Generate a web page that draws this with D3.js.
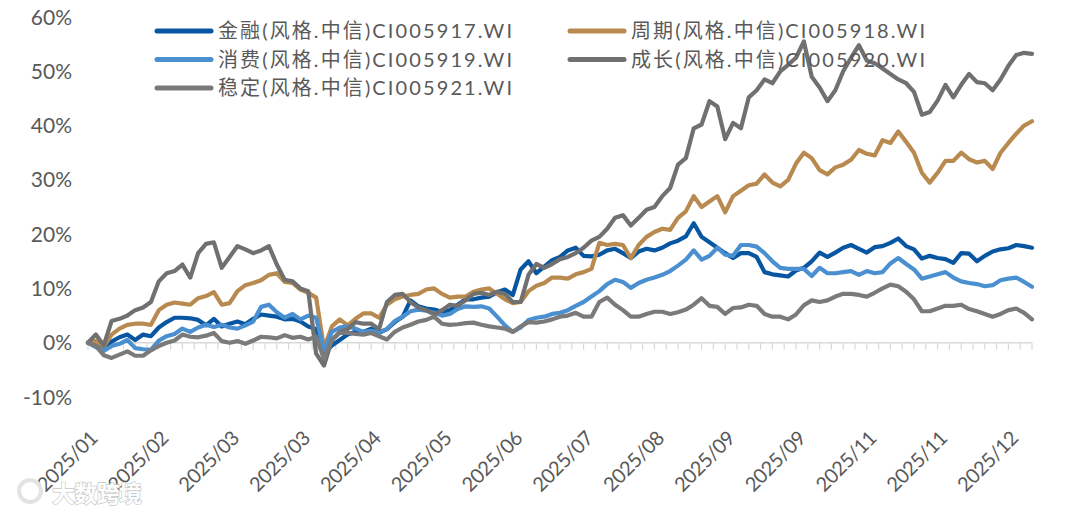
<!DOCTYPE html>
<html>
<head>
<meta charset="utf-8">
<script src="https://cdn.jsdelivr.net/npm/d3@7"></script>
<style>
  body { margin: 0; background: #fff; }
  svg text { font-family: "Century Gothic", Lato, "Noto Sans CJK SC", sans-serif; fill: #595959; }
</style>
</head>
<body>
<div id="chart"></div>
<script>
// one value every 2 trading days, cumulative return in %
var seriesNames = ["金融(风格.中信)CI005917.WI", "周期(风格.中信)CI005918.WI", "消费(风格.中信)CI005919.WI",
                   "成长(风格.中信)CI005920.WI", "稳定(风格.中信)CI005921.WI"];
var colors = ["#0756A1", "#B98A4F", "#4A90D0", "#707070", "#7A7A7A"];

var finance = [0, -0.5, -1.2, 0.2, 1.0, 1.5, 0.5, 1.5, 1.2, 2.8, 3.8, 4.6, 4.6, 4.5, 4.2, 3.2, 4.4, 3.0, 3.5, 3.9, 3.4, 4.4, 5.2, 5.0, 4.8, 4.3, 4.4, 3.9, 3.0, 2.5,
  -2.0, -0.5, 0.5, 1.5, 2.0, 2.0, 2.6, 1.8, 2.5, 3.8, 4.8, 7.8, 6.7, 6.3, 6.1, 5.7, 6.0, 7.0, 8.0, 8.0, 8.3, 8.5, 9.3, 9.8, 8.8, 13.5, 15.0, 12.8, 14.0, 15.2,
  15.8, 17.0, 17.5, 16.0, 15.9, 16.2, 17.0, 17.3, 16.5, 15.6, 16.8, 17.3, 17.0, 17.5, 18.3, 18.8, 19.6, 22.0, 19.5, 18.5, 17.5, 16.5, 15.6, 16.5, 16.5, 15.8, 13.0, 12.6, 12.4, 12.2,
  13.3, 13.8, 15.0, 16.6, 15.8, 16.6, 17.5, 18.0, 17.3, 16.6, 17.6, 17.8, 18.4, 19.2, 17.8, 17.2, 15.5, 16.0, 15.6, 15.4, 14.7, 16.5, 16.4, 15.0, 16.0, 16.8, 17.2, 17.4, 18.0, 17.8, 17.5];

var cyclical = [0, 0.3, -0.7, 1.5, 2.6, 3.3, 3.5, 3.5, 3.3, 6.0, 7.0, 7.4, 7.2, 7.0, 8.2, 8.6, 9.3, 7.0, 7.3, 9.5, 10.6, 11.0, 11.5, 12.5, 12.8, 11.2, 11.0, 9.8, 9.2, 8.3,
  -1.0, 3.0, 4.3, 3.2, 4.4, 5.4, 5.4, 4.6, 7.0, 8.0, 8.5, 8.8, 9.0, 9.8, 10.0, 9.0, 8.3, 8.5, 8.5, 9.4, 9.8, 10.0, 9.0, 8.0, 7.3, 7.5, 9.5, 10.5, 11.0, 12.0,
  12.0, 11.8, 12.6, 13.0, 13.6, 18.4, 18.0, 18.2, 18.0, 15.6, 18.0, 19.5, 20.4, 21.0, 20.8, 23.0, 24.2, 27.0, 25.0, 26.0, 27.0, 24.0, 27.0, 28.0, 29.0, 29.3, 31.0, 29.5, 28.8, 30.0,
  33.0, 35.0, 34.0, 31.8, 31.0, 32.3, 32.8, 33.7, 35.5, 34.8, 34.5, 37.3, 36.8, 38.9, 37.0, 35.0, 31.3, 29.5, 31.3, 33.5, 33.5, 35.0, 33.8, 33.2, 33.5, 32.0, 35.0, 36.8, 38.5, 40.0, 40.8];

var consumer = [0, -0.8, -1.5, -0.6, -0.2, 0.5, -1.0, -1.2, -1.3, 0.4, 1.2, 1.6, 2.6, 2.0, 2.8, 3.3, 2.9, 3.3, 2.8, 2.6, 3.2, 3.9, 6.6, 7.0, 5.6, 4.6, 5.3, 4.3, 5.0, 4.6,
  -1.5, 2.0, 2.8, 3.0, 2.6, 2.0, 2.2, 1.9, 2.5, 4.0, 4.8, 5.8, 6.1, 5.9, 5.5, 5.0, 5.3, 6.2, 6.7, 6.6, 6.7, 6.3, 4.8, 3.2, 2.0, 2.8, 4.2, 4.6, 4.8, 5.3,
  5.5, 6.0, 6.8, 7.5, 8.5, 9.5, 10.8, 11.6, 11.2, 10.1, 11.0, 11.6, 12.0, 12.5, 13.2, 14.2, 15.3, 17.0, 15.3, 16.0, 17.5, 16.2, 16.0, 18.0, 18.0, 17.7, 16.5, 15.0, 13.8, 13.6,
  13.6, 13.6, 12.3, 13.8, 12.8, 12.8, 13.0, 13.2, 12.5, 13.2, 12.8, 13.0, 14.6, 15.6, 14.5, 13.5, 11.8, 12.2, 12.6, 13.0, 12.0, 11.3, 11.0, 10.8, 10.4, 10.6, 11.5, 11.8, 12.0, 11.2, 10.3];

var growth = [0, 1.5, -0.5, 4.0, 4.4, 5.0, 6.0, 6.5, 7.5, 11.3, 12.8, 13.2, 14.4, 12.0, 16.5, 18.2, 18.5, 13.8, 15.8, 17.8, 17.2, 16.5, 17.0, 17.8, 14.4, 11.6, 11.3, 10.0, 9.5, -2.0,
  -4.2, 0.5, 2.0, 2.5, 3.8, 3.5, 3.5, 2.5, 7.5, 8.8, 9.0, 7.5, 6.5, 6.0, 5.2, 6.0, 7.0, 6.8, 7.8, 9.0, 9.2, 8.8, 9.4, 9.0, 7.5, 7.5, 12.5, 14.5, 13.8, 14.5,
  15.4, 15.8, 16.5, 17.5, 18.8, 19.5, 21.0, 23.0, 23.5, 21.6, 23.0, 24.5, 25.0, 27.0, 28.5, 32.8, 34.0, 39.5, 40.2, 44.5, 43.5, 37.5, 40.5, 39.5, 45.2, 46.5, 48.5, 47.8, 50.0, 51.2,
  52.5, 55.5, 49.0, 47.0, 44.5, 46.5, 50.0, 52.5, 54.8, 52.0, 51.5, 50.5, 49.5, 48.5, 47.8, 46.2, 42.0, 42.5, 44.6, 47.5, 45.2, 47.5, 49.5, 48.0, 47.8, 46.5, 48.5, 51.0, 53.0, 53.4, 53.2];

var stable = [0, -0.6, -2.3, -2.8, -2.2, -1.6, -2.4, -2.4, -1.4, -0.6, 0.0, 0.4, 1.5, 1.1, 1.0, 1.3, 1.8, 0.3, 0.0, 0.3, -0.2, 0.4, 1.1, 1.0, 0.8, 1.4, 0.9, 1.1, 0.6, 1.1,
  -3.0, 0.5, 1.8, 1.8, 1.6, 1.5, 1.8, 1.2, 0.6, 2.0, 2.8, 3.3, 3.9, 4.2, 4.8, 3.5, 3.3, 3.4, 3.6, 3.7, 3.3, 3.0, 2.8, 2.6, 2.0, 3.0, 3.8, 3.7, 3.9, 4.3,
  4.8, 5.0, 5.5, 4.8, 4.8, 7.5, 8.3, 7.0, 6.0, 4.8, 4.8, 5.3, 5.7, 5.7, 5.3, 5.6, 6.1, 7.0, 8.2, 6.8, 6.6, 5.3, 6.4, 6.5, 7.0, 6.8, 5.3, 4.8, 4.8, 4.3,
  5.2, 6.9, 7.8, 7.5, 7.8, 8.5, 9.0, 9.0, 8.8, 8.5, 9.2, 10.0, 10.7, 10.4, 9.4, 8.0, 5.8, 5.8, 6.3, 6.8, 6.8, 7.0, 6.2, 5.8, 5.3, 4.8, 5.3, 6.0, 6.3, 5.5, 4.3];

var tickLabels = ["2025/01", "2025/02", "2025/03", "2025/03", "2025/04", "2025/05", "2025/06",
                  "2025/07", "2025/08", "2025/09", "2025/09", "2025/11", "2025/11", "2025/12"];
var yTicks = [-10, 0, 10, 20, 30, 40, 50, 60];

var allSeries = [finance, cyclical, consumer, growth, stable];

var width = 1080, height = 512;
var dayStep = 2;          // trading days between points
var tickEvery = 3;        // trading days between tick marks
var labelEvery = 18;      // trading days between labels
var lastDay = (finance.length - 1) * dayStep;

var x = d3.scaleLinear().domain([0, lastDay]).range([88, 1032]);
var y = d3.scaleLinear().domain([-10, 60]).range([397, 17]);

var svg = d3.select("#chart").append("svg")
  .attr("width", width).attr("height", height)
  .style("background", "white");

// y labels
svg.append("g").selectAll("text")
  .data(yTicks).enter().append("text")
  .attr("x", 72).attr("y", d => y(d))
  .attr("dy", "0.36em")
  .attr("text-anchor", "end")
  .style("font-size", "21px")
  .text(d => d + "%");

// category axis at 0%
var axisG = svg.append("g");
axisG.append("line")
  .attr("x1", x(0)).attr("x2", x(lastDay))
  .attr("y1", y(0)).attr("y2", y(0))
  .attr("stroke", "#d9d9d9").attr("stroke-width", 1.5);

axisG.selectAll("line.tick")
  .data(d3.range(0, lastDay + 0.01, tickEvery)).enter().append("line")
  .attr("class", "tick")
  .attr("x1", d => x(d)).attr("x2", d => x(d))
  .attr("y1", y(0)).attr("y2", y(0) + 7)
  .attr("stroke", "#d9d9d9").attr("stroke-width", 1.2);

svg.append("g").selectAll("text")
  .data(tickLabels).enter().append("text")
  .attr("transform", (d, i) => "translate(" + (x(i * labelEvery) + 1) + ",429) rotate(-45)")
  .attr("text-anchor", "end")
  .attr("dy", "0.72em")
  .attr("textLength", 76)
  .style("font-size", "20px")
  .text(d => d);

// lines
var line = d3.line()
  .x((d, i) => x(i * dayStep))
  .y(d => y(d));

svg.append("g").selectAll("path")
  .data(allSeries).enter().append("path")
  .attr("d", d => line(d))
  .attr("fill", "none")
  .attr("stroke", (d, i) => colors[i])
  .attr("stroke-width", 4.2)
  .attr("stroke-linejoin", "round")
  .attr("stroke-linecap", "round");

// legend, two columns filled row by row
var legend = svg.append("g").selectAll("g")
  .data(seriesNames).enter().append("g")
  .attr("transform", (d, i) => "translate(" + (i % 2 === 0 ? 157 : 570) + "," + (31 + Math.floor(i / 2) * 28.5) + ")");

legend.append("line")
  .attr("x1", 0).attr("x2", 54)
  .attr("stroke", (d, i) => colors[i])
  .attr("stroke-width", 5)
  .attr("stroke-linecap", "round");

legend.append("text")
  .attr("x", 61).attr("dy", "0.36em")
  .attr("textLength", 294)
  .style("font-size", "20px")
  .text(d => d);

// watermark
var wm = svg.append("g").attr("transform", "translate(8,480)");
wm.append("circle").attr("cx", 22).attr("cy", 11).attr("r", 11)
  .attr("fill", "none").attr("stroke", "#e3e3e3").attr("stroke-width", 4);
wm.append("text")
  .attr("x", 44).attr("y", 22)
  .attr("textLength", 90)
  .style("font-size", "23px").style("font-weight", "bold")
  .style("fill", "#ffffff").style("stroke", "#c4c4c4").style("stroke-width", 1.3)
  .style("paint-order", "stroke")
  .text("大数跨境");
</script>
</body>
</html>
